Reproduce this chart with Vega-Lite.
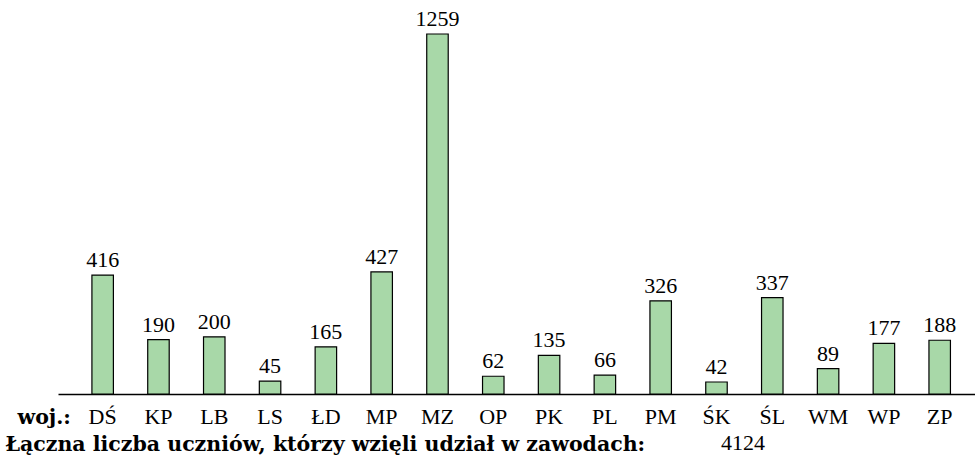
{
  "$schema": "https://vega.github.io/schema/vega-lite/v6.json",
  "width": 917,
  "height": 389,
  "view": {"stroke": null},
  "data": {
    "values": [
      {"woj": "DŚ", "n": 416},
      {"woj": "KP", "n": 190},
      {"woj": "LB", "n": 200},
      {"woj": "LS", "n": 45},
      {"woj": "ŁD", "n": 165},
      {"woj": "MP", "n": 427},
      {"woj": "MZ", "n": 1259},
      {"woj": "OP", "n": 62},
      {"woj": "PK", "n": 135},
      {"woj": "PL", "n": 66},
      {"woj": "PM", "n": 326},
      {"woj": "ŚK", "n": 42},
      {"woj": "ŚL", "n": 337},
      {"woj": "WM", "n": 89},
      {"woj": "WP", "n": 177},
      {"woj": "ZP", "n": 188}
    ]
  },
  "layer": [
    {
      "mark": {"type": "bar", "fill": "#a8d8a8", "stroke": "black", "strokeWidth": 1.2},
      "encoding": {
        "x": {
          "field": "woj",
          "type": "nominal",
          "sort": null,
          "scale": {"paddingInner": 0.615, "paddingOuter": 0.524, "align": 0.58},
          "axis": {
            "title": "Łączna liczba uczniów, którzy wzięli udział w zawodach:",
            "titleFont": "DejaVu Serif",
            "titleFontSize": 20.5,
            "titleFontWeight": "bold",
            "titleColor": "black",
            "titleAlign": "left",
            "titleAnchor": "start",
            "titleBaseline": "alphabetic",
            "titleX": -53,
            "titleY": 56,
            "labelAngle": 0,
            "labelFont": "Liberation Serif",
            "labelFontSize": 22,
            "labelColor": "black",
            "labelBaseline": "alphabetic",
            "labelPadding": 29,
            "ticks": false,
            "tickSize": 0,
            "grid": false,
            "domain": true,
            "domainColor": "black",
            "domainWidth": 1.3
          }
        },
        "y": {
          "field": "n",
          "type": "quantitative",
          "scale": {"domain": [0, 1360.4], "nice": false, "zero": true},
          "axis": {
            "title": "woj.:",
            "titleFont": "DejaVu Serif",
            "titleFontSize": 20.5,
            "titleFontWeight": "bold",
            "titleColor": "black",
            "titleAngle": 0,
            "titleAlign": "left",
            "titleBaseline": "alphabetic",
            "titleX": -41,
            "titleY": 418,
            "labels": false,
            "ticks": false,
            "domain": false,
            "grid": false
          }
        }
      }
    },
    {
      "mark": {"type": "text", "baseline": "alphabetic", "dy": -8, "font": "Liberation Serif", "fontSize": 22, "color": "black"},
      "encoding": {
        "x": {"field": "woj", "type": "nominal", "sort": null},
        "y": {"field": "n", "type": "quantitative"},
        "text": {"field": "n", "type": "quantitative"}
      }
    },
    {
      "data": {"values": [{"total": 4124}]},
      "mark": {"type": "text", "align": "left", "baseline": "alphabetic", "font": "Liberation Serif", "fontSize": 22, "color": "black", "x": 663, "y": 445},
      "encoding": {"text": {"field": "total", "type": "quantitative"}}
    }
  ]
}
